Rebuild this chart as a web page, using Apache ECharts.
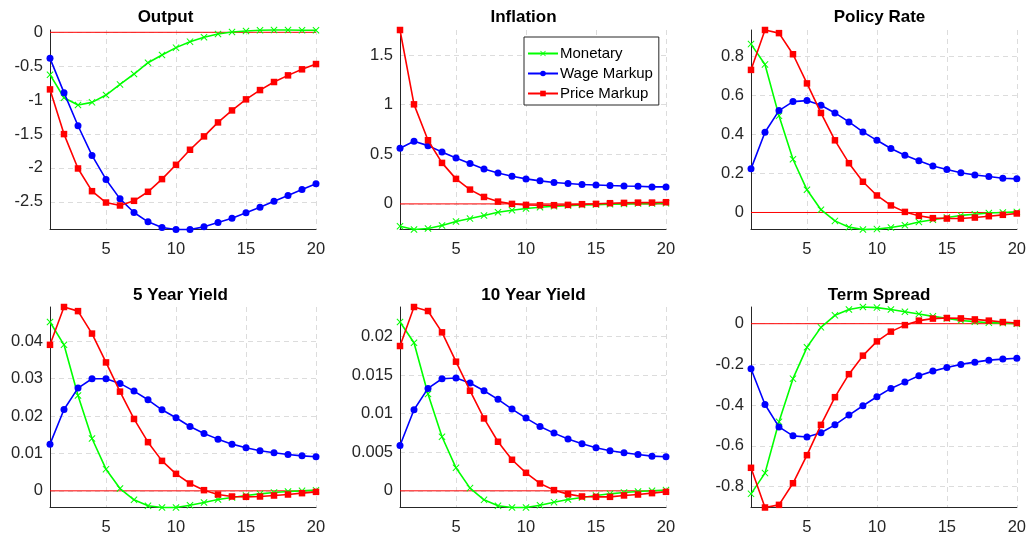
<!DOCTYPE html>
<html><head><meta charset="utf-8">
<script src="https://cdn.jsdelivr.net/npm/echarts@6/dist/echarts.min.js"></script>
<style>html,body{margin:0;padding:0;background:#fff}#c{width:1029px;height:537px}</style>
</head><body><div id="c"></div>
<script>
// ---------- DATA ----------
const periods = [1,2,3,4,5,6,7,8,9,10,11,12,13,14,15,16,17,18,19,20];
const seriesNames = ['Monetary', 'Wage Markup', 'Price Markup'];
const panelTitles = ['Output', 'Inflation', 'Policy Rate', '5 Year Yield', '10 Year Yield', 'Term Spread'];
const xTicks = [5, 10, 15, 20];

const outputMonetary = [-0.625,-0.965,-1.073,-1.033,-0.925,-0.768,-0.615,-0.448,-0.335,-0.226,-0.138,-0.074,-0.025,0.005,0.020,0.030,0.034,0.034,0.030,0.030];
const outputWage = [-0.384,-0.890,-1.378,-1.816,-2.170,-2.456,-2.657,-2.795,-2.879,-2.908,-2.908,-2.869,-2.805,-2.741,-2.662,-2.579,-2.490,-2.406,-2.318,-2.234];
const outputPrice = [-0.842,-1.501,-2.008,-2.343,-2.510,-2.554,-2.485,-2.352,-2.165,-1.954,-1.732,-1.535,-1.329,-1.152,-0.989,-0.852,-0.733,-0.635,-0.546,-0.468];
const outputTicks = [-2.5, -2, -1.5, -1, -0.5, 0];

const inflMonetary = [-0.225,-0.258,-0.248,-0.218,-0.178,-0.148,-0.117,-0.084,-0.064,-0.047,-0.034,-0.023,-0.017,-0.010,-0.007,-0.003,0.000,0.003,0.003,0.007];
const inflWage = [0.560,0.631,0.587,0.523,0.463,0.406,0.352,0.312,0.279,0.252,0.232,0.215,0.205,0.195,0.191,0.185,0.181,0.178,0.171,0.171];
const inflPrice = [1.752,1.003,0.641,0.413,0.252,0.144,0.070,0.023,0.000,-0.010,-0.013,-0.013,-0.010,-0.003,0.000,0.007,0.010,0.013,0.013,0.017];
const inflTicks = [0, 0.5, 1, 1.5];

const rateMonetary = [0.861,0.757,0.494,0.272,0.116,0.014,-0.043,-0.075,-0.087,-0.085,-0.077,-0.065,-0.049,-0.037,-0.026,-0.015,-0.009,-0.003,0.000,0.003];
const rateWage = [0.223,0.410,0.521,0.567,0.572,0.548,0.509,0.463,0.412,0.369,0.327,0.293,0.264,0.238,0.220,0.203,0.192,0.184,0.175,0.172];
const ratePrice = [0.729,0.933,0.917,0.809,0.660,0.509,0.369,0.252,0.157,0.087,0.036,0.003,-0.017,-0.029,-0.031,-0.031,-0.026,-0.019,-0.012,-0.005];
const rateTicks = [0, 0.2, 0.4, 0.6, 0.8];

const y5Monetary = [0.0451,0.0390,0.02548,0.01399,0.00579,0.00062,-0.0024,-0.0040,-0.00445,-0.00445,-0.00383,-0.00312,-0.00232,-0.00178,-0.00125,-0.0008,-0.00045,-0.00018,0.0,0.00018];
const y5Wage = [0.01247,0.02174,0.02744,0.02993,0.02993,0.02869,0.02664,0.02432,0.02165,0.01951,0.01719,0.01532,0.01381,0.01247,0.01149,0.01069,0.01016,0.00971,0.00935,0.00909];
const y5Price = [0.0390,0.0491,0.0480,0.0420,0.0343,0.0265,0.0192,0.0130,0.0080,0.00454,0.00196,0.00018,-0.00098,-0.00151,-0.0016,-0.00151,-0.00125,-0.00098,-0.00062,-0.00027];
const y5Ticks = [0, 0.01, 0.02, 0.03, 0.04];

const y10Monetary = [0.02186,0.01918,0.01253,0.0070,0.00298,0.00035,-0.00117,-0.00194,-0.00216,-0.00216,-0.00186,-0.00147,-0.00112,-0.00086,-0.0006,-0.00039,-0.00022,-0.00009,0.0,0.00009];
const y10Wage = [0.00587,0.0105,0.01326,0.01451,0.0146,0.01395,0.01296,0.01184,0.01058,0.00942,0.00834,0.00747,0.0067,0.00609,0.00557,0.00518,0.00492,0.00471,0.00449,0.00441];
const y10Price = [0.01875,0.0238,0.02328,0.02052,0.01672,0.01296,0.00937,0.00635,0.00402,0.00233,0.00095,0.00009,-0.00043,-0.00073,-0.00078,-0.00078,-0.0006,-0.00048,-0.0003,-0.00013];
const y10Ticks = [0, 0.005, 0.01, 0.015, 0.02];

const spreadMonetary = [-0.836,-0.734,-0.482,-0.270,-0.116,-0.018,0.041,0.070,0.082,0.079,0.070,0.059,0.048,0.036,0.026,0.016,0.010,0.005,0.003,0.000];
const spreadWage = [-0.221,-0.397,-0.507,-0.551,-0.557,-0.536,-0.497,-0.449,-0.403,-0.359,-0.318,-0.287,-0.256,-0.233,-0.215,-0.200,-0.189,-0.179,-0.174,-0.170];
const spreadPrice = [-0.708,-0.903,-0.890,-0.784,-0.646,-0.497,-0.361,-0.248,-0.157,-0.087,-0.039,-0.007,0.015,0.025,0.028,0.026,0.021,0.015,0.008,0.003];
const spreadTicks = [-0.8, -0.6, -0.4, -0.2, 0];

// ---------- LAYOUT / STYLE ----------
const panelData = [
  [outputMonetary, outputWage, outputPrice, outputTicks],
  [inflMonetary, inflWage, inflPrice, inflTicks],
  [rateMonetary, rateWage, ratePrice, rateTicks],
  [y5Monetary, y5Wage, y5Price, y5Ticks],
  [y10Monetary, y10Wage, y10Price, y10Ticks],
  [spreadMonetary, spreadWage, spreadPrice, spreadTicks]
];
const gridPos = [
  {left: 50, top: 30, width: 266, height: 199.5},
  {left: 400, top: 30, width: 266, height: 199.5},
  {left: 751, top: 30, width: 267, height: 199.5},
  {left: 50, top: 307, width: 266, height: 200.5},
  {left: 400, top: 307, width: 266, height: 200.5},
  {left: 751, top: 307, width: 267, height: 200.5}
];
const titlePos = [[165.5, 17], [523.5, 17], [879.5, 17], [180.5, 295], [533.5, 295], [879, 295]];
const colors = ['#00ff00', '#0000ff', '#ff0000'];
const xSym = 'path://M0,1L1,0L5,4L9,0L10,1L6,5L10,9L9,10L5,6L1,10L0,9L4,5Z';
const symbols = [xSym, 'circle', 'rect'];
const symSizes = [7, 7, 6.5];
const FONT = '"Liberation Sans", Arial, Helvetica, sans-serif';
const textCol = '#262626';
const fmt = v => String(parseFloat(Number(v).toPrecision(10)));

const grids = [], xAxes = [], yAxes = [], series = [], graphics = [];
panelData.forEach((pd, i) => {
  grids.push(Object.assign({containLabel: false}, gridPos[i]));
  xAxes.push({
    type: 'value', gridIndex: i, min: 1, max: 20,
    axisLine: {show: true, onZero: false, lineStyle: {color: textCol, width: 1}},
    axisTick: {show: false, customValues: xTicks},
    axisLabel: {customValues: xTicks, color: textCol, fontSize: 16.5, fontFamily: FONT, margin: 11, formatter: fmt},
    splitLine: {show: true, lineStyle: {color: '#dcdcdc', type: [5, 4], width: 1}}
  });
  yAxes.push({
    type: 'value', gridIndex: i,
    min: v => v.min, max: v => v.max, scale: true,
    axisLine: {show: true, onZero: false, lineStyle: {color: textCol, width: 1}},
    axisTick: {show: false, customValues: pd[3]},
    axisLabel: {customValues: pd[3], color: textCol, fontSize: 16.5, fontFamily: FONT, margin: 7, formatter: fmt},
    splitLine: {show: true, lineStyle: {color: '#dcdcdc', type: [5, 4], width: 1}}
  });
  series.push({
    name: 'zero', type: 'line', xAxisIndex: i, yAxisIndex: i,
    data: [[periods[0], 0], [periods[periods.length - 1], 0]],
    symbol: 'none', silent: true, z: 1,
    lineStyle: {color: '#ff0000', width: 1}
  });
  for (let s = 0; s < 3; s++) {
    series.push({
      name: seriesNames[s], type: 'line', xAxisIndex: i, yAxisIndex: i,
      data: periods.map((p, k) => [p, pd[s][k]]),
      symbol: symbols[s], symbolSize: symSizes[s], showSymbol: true, clip: false, z: 2 + s,
      lineStyle: {color: colors[s], width: 1.6},
      itemStyle: {color: colors[s]}
    });
  }
  graphics.push({
    type: 'text', x: titlePos[i][0], y: titlePos[i][1],
    style: {text: panelTitles[i], font: 'bold 17px ' + FONT, fill: '#000', align: 'center', verticalAlign: 'middle'}
  });
});

const chart = echarts.init(document.getElementById('c'), null, {renderer: 'canvas'});
chart.setOption({
  animation: false,
  backgroundColor: '#fff',
  grid: grids, xAxis: xAxes, yAxis: yAxes, series: series,
  graphic: graphics,
  legend: {
    data: seriesNames, orient: 'vertical', left: 524, top: 37,
    padding: [9, 6, 4, 3], itemGap: 5, itemWidth: 30, itemHeight: 7,
    backgroundColor: '#fff', borderColor: '#262626', borderWidth: 1,
    textStyle: {fontSize: 15, fontFamily: FONT, color: '#000', padding: [0, 0, 0, -3]},
    selectedMode: false
  }
});
</script></body></html>
